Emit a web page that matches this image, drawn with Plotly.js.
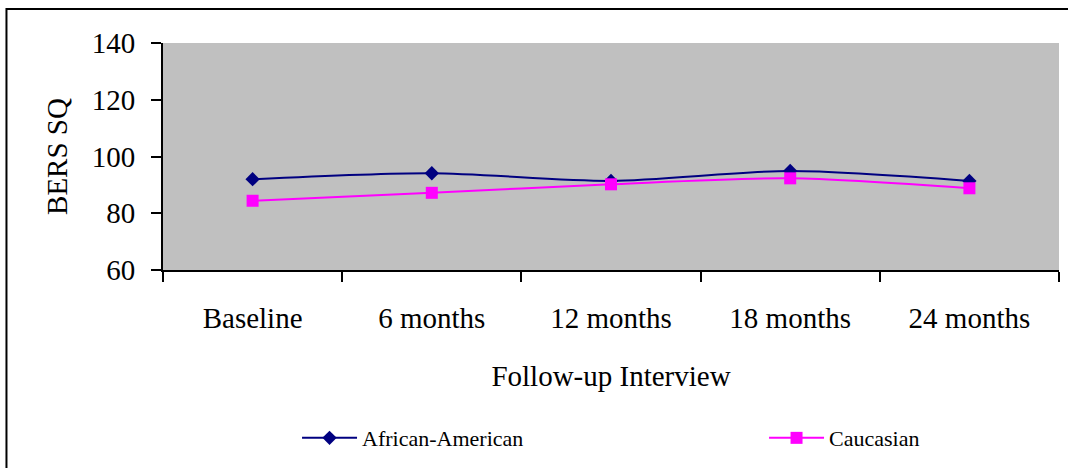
<!DOCTYPE html>
<html>
<head>
<meta charset="utf-8">
<script src="https://cdn.plot.ly/plotly-3.0.1.min.js"></script>
<style>
  html, body { margin: 0; padding: 0; background: #ffffff; }
  #chart { width: 1068px; height: 468px; }
</style>
</head>
<body>
<div id="chart"></div>
<script>
// Follow-up waves
var waves = ['Baseline', '6 months', '12 months', '18 months', '24 months'];

// Mean BERS SQ score per wave
var africanAmerican = [92.0, 94.1, 91.4, 94.9, 91.4];
var caucasian = [84.4, 87.2, 90.2, 92.3, 88.8];

var serif = 'Liberation Serif, Times New Roman, serif';

var traces = [
  {
    x: waves,
    y: africanAmerican,
    name: 'African-American',
    legend: 'legend',
    type: 'scatter',
    mode: 'lines+markers',
    line: { color: '#000080', width: 2, shape: 'spline', smoothing: 0.8 },
    marker: { symbol: 'diamond', size: 11, color: '#000080' }
  },
  {
    x: waves,
    y: caucasian,
    name: 'Caucasian',
    legend: 'legend2',
    type: 'scatter',
    mode: 'lines+markers',
    line: { color: '#ff00ff', width: 2, shape: 'spline', smoothing: 0.8 },
    marker: { symbol: 'square', size: 12, color: '#ff00ff' }
  }
];

// one legend box per series, spread along the bottom
function legendBox(xPos) {
  return {
    orientation: 'h',
    x: xPos,
    xanchor: 'left',
    xref: 'paper',
    y: 0.064,
    yref: 'container',
    yanchor: 'middle',
    font: { family: serif, size: 22, color: '#000000' },
    itemwidth: 55,
    bgcolor: 'rgba(0,0,0,0)'
  };
}

var layout = {
  width: 1068,
  height: 468,
  margin: { l: 163, r: 9, t: 43, b: 198, autoexpand: false },
  paper_bgcolor: '#ffffff',
  plot_bgcolor: '#c0c0c0',
  font: { family: serif, color: '#000000', size: 29 },
  showlegend: true,
  legend: legendBox(0.1496),
  legend2: legendBox(0.6708),
  xaxis: {
    type: 'category',
    range: [-0.5, 4.5],
    showgrid: false,
    zeroline: false,
    showline: true,
    linecolor: '#000000',
    linewidth: 2,
    ticks: 'outside',
    tickson: 'boundaries',
    ticklen: 10,
    tickwidth: 2,
    tickcolor: '#000000',
    ticklabelstandoff: 21,
    tickfont: { family: serif, size: 29, color: '#000000' },
    title: { text: 'Follow-up Interview', font: { family: serif, size: 29, color: '#000000' }, standoff: 33 }
  },
  yaxis: {
    range: [60, 140],
    dtick: 20,
    tick0: 60,
    showgrid: false,
    zeroline: false,
    showline: true,
    linecolor: '#000000',
    linewidth: 2,
    ticks: 'outside',
    ticklen: 10,
    tickwidth: 2,
    tickcolor: '#000000',
    ticklabelstandoff: 10,
    tickfont: { family: serif, size: 29, color: '#000000' },
    title: { text: 'BERS SQ', font: { family: serif, size: 29, color: '#000000' }, standoff: 16 }
  },
  shapes: [
    {
      type: 'rect',
      xref: 'paper', yref: 'paper',
      x0: -0.1747, x1: 1.02,
      y0: -1.0, y1: 1.1498,
      line: { color: '#000000', width: 2 },
      fillcolor: 'rgba(0,0,0,0)',
      layer: 'below'
    }
  ]
};

Plotly.newPlot('chart', traces, layout, { displayModeBar: false, staticPlot: true });
</script>
</body>
</html>
